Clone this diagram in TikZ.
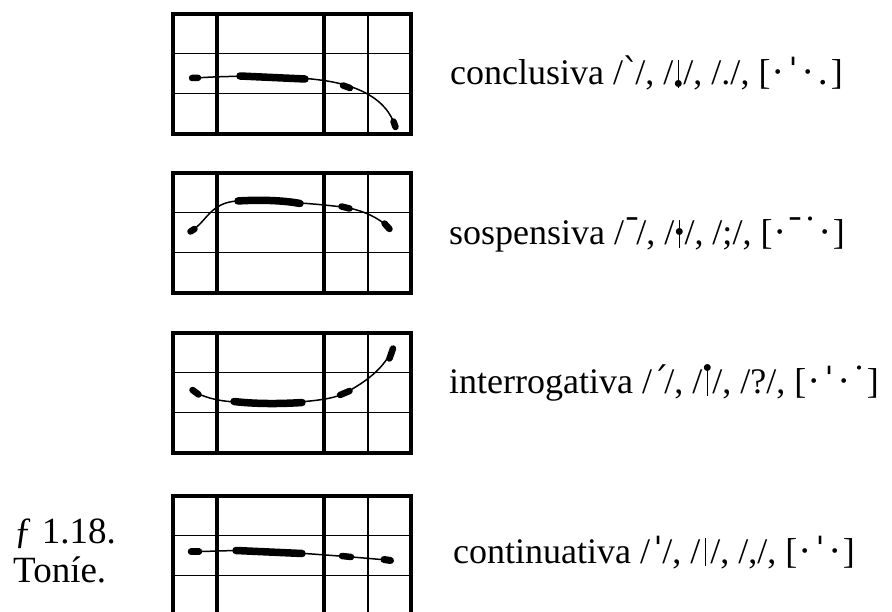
\documentclass[tikz,border=0pt]{standalone}
\usepackage{fontspec}
\setmainfont{Liberation Serif}
\newfontfamily\ipa{DejaVu Serif}
\newcommand\mk[1]{\makebox[0.34em]{\hspace{0.12em}\ipa #1}}
\newcommand\bk[1]{\makebox[0.42em]{\ipa #1}}
\newcommand\pbar{\makebox[0.28em]{\rule[-0.08em]{0.05em}{0.78em}}}
\newcommand\tbar[1]{\pbar\kern-0.28em\makebox[0.28em]{\raisebox{#1}{\scalebox{0.8}{•}}}}
\tikzset{
  outerline/.style={line width=4pt},
  thkline/.style={line width=3.2pt},
  thnline/.style={line width=1.7pt},
  contour/.style={line width=1.5pt},
  blob/.style={line width=6.5pt, line cap=round},
  bigbar/.style={line width=7.5pt, line cap=round},
  lbl/.style={inner sep=0pt, font=\fontsize{36}{43}\selectfont},
  figlabel/.style={inner sep=0pt, font=\fontsize{37}{44}\selectfont},
  tgrid/.pic={
    \draw[thnline] (0,39.5) -- (238,39.5) (0,79.5) -- (238,79.5) (195,0) -- (195,120);
    \draw[thkline] (44,0) -- (44,120) (151,0) -- (151,120);
    \draw[outerline] (0,0) rectangle (238,120);
  }
}
\begin{document}
\begin{tikzpicture}[x=1pt,y=-1pt]
\useasboundingbox (0,0) rectangle (892,612);
\clip (0,0) rectangle (892,612);
% grids
\pic (g1) at (173,14) {tgrid};
\pic (g2) at (173,173) {tgrid};
\pic (g3) at (173,333) {tgrid};
\pic (g4) at (173,496) {tgrid};
% box 1: conclusiva
\draw[contour] (195,78) .. controls (240,75) and (290,76) .. (320,80) .. controls (360,85) and (387,100) .. (395,126);
\draw[blob] (192,78) -- (198,77.8);
\draw[bigbar] (240,76) -- (305,79);
\draw[blob] (343,85.5) -- (350,88);
\draw[blob] (393.5,121.5) -- (395.5,127);
% box 2: sospensiva
\draw[contour] (192,230) .. controls (206,223) and (210,202) .. (238,201) .. controls (270,200) and (320,204) .. (346,207.5) .. controls (365,211) and (378,218) .. (387,226);
\draw[blob] (190.5,231.5) -- (194.5,229);
\draw[bigbar] (238,201) .. controls (260,199.5) and (285,200.5) .. (300,203.5);
\draw[blob] (341.5,206.5) -- (349.5,208.5);
\draw[blob] (384.5,223.5) -- (389.5,229);
% box 3: interrogativa
\draw[contour] (196,393) .. controls (210,399) and (220,401) .. (235,402) .. controls (265,404) and (290,403) .. (310,401) .. controls (330,399) and (340,396) .. (347,392) .. controls (365,382) and (382,370) .. (391,352);
\draw[blob] (192.5,390) -- (198.5,394.5);
\draw[bigbar] (234,401.5) .. controls (255,404) and (280,404) .. (302,402.5);
\draw[blob] (340,395) -- (349.5,391);
\draw[blob] (389.5,358.5) -- (393,348.5);
% box 4: continuativa
\draw[contour] (195,551.7) -- (235,550.5) -- (305,553.5) -- (346,556.5) -- (387,560);
\draw[blob] (191,551.7) -- (199,551.7);
\draw[bigbar] (236,550.5) -- (302,553.5);
\draw[blob] (342,556) -- (351,557);
\draw[blob, line width=7pt] (384,559.5) -- (390.5,560.5);
% texts
\node[lbl, anchor=base west] (t1) at (450,85) {conclusiva /\mk{ˋ}/, /\tbar{-0.25em}/, /./, [\bk{·}\bk{ˈ}\bk{·}\bk{.}]};
\node[lbl, anchor=base west] (t2) at (449,245) {sospensiva /\mk{ˉ}/, /\tbar{0.1em}/, /;/, [\bk{·}\bk{ˉ}\bk{˙}\bk{·}]};
\node[lbl, anchor=base west] (t3) at (449,393) {interrogativa /\mk{ˊ}/, /\tbar{0.42em}/, /?/, [\bk{·}\bk{ˈ}\bk{·}\bk{˙}]};
\node[lbl, anchor=base west] (t4) at (453,563) {continuativa /\mk{ˈ}/, /\pbar/, /,/, [\bk{·}\bk{ˈ}\bk{·}]};
\node[figlabel, anchor=base west] (f1) at (14,543) {ƒ 1.18.};
\node[figlabel, anchor=base west] (f2) at (13,582) {Toníe.};
\end{tikzpicture}
\end{document}
